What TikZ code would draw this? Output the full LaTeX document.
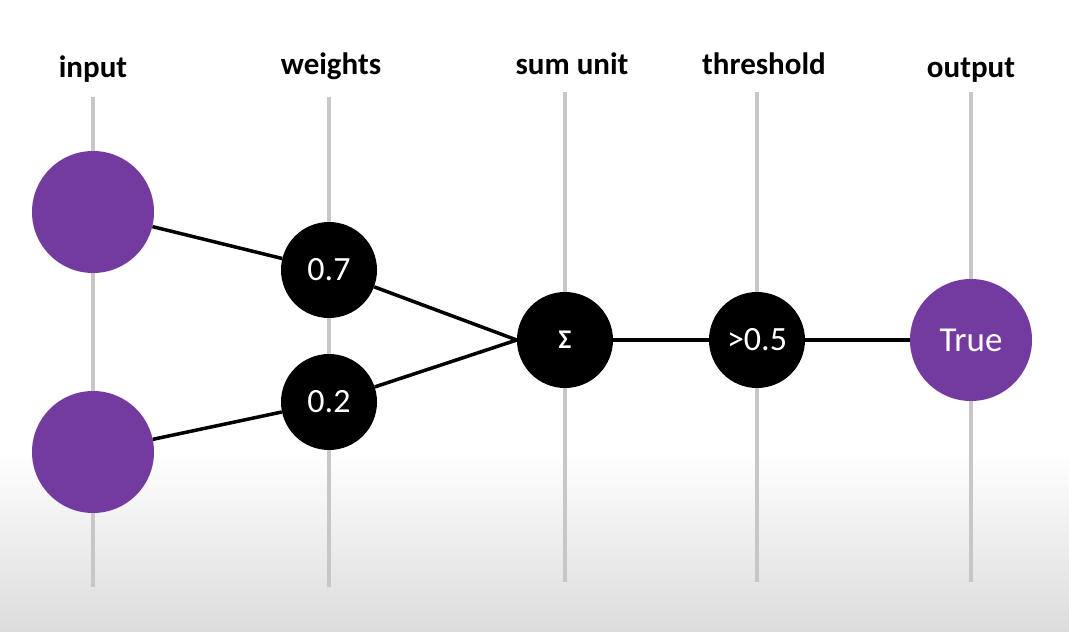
\documentclass[tikz,border=0pt]{standalone}
\usepackage{fontspec}
\setmainfont{Carlito}
\definecolor{nnpurple}{RGB}{115,58,160}
\definecolor{vline}{RGB}{200,198,200}
\definecolor{bgbot}{RGB}{220,220,220}
\begin{document}
\begin{tikzpicture}[x=1pt,y=-1pt,
  header/.style={font=\fontsize{31}{36}\selectfont\bfseries, anchor=base, inner sep=0pt},
  guide/.style={draw=vline, line width=4pt},
  bignode/.style={circle, fill=nnpurple, minimum size=122pt, inner sep=0pt, text=white, font=\fontsize{35}{40}\selectfont},
  smallnode/.style={circle, fill=black, minimum size=96pt, inner sep=0pt, text=white, font=\fontsize{34}{39}\selectfont},
  link/.style={draw=black, line width=3.5pt}]
\useasboundingbox (0,0) rectangle (1069,632);
\fill[white] (0,0) rectangle (1069,450);
\shade[top color=white, bottom color=bgbot] (0,450) rectangle (1069,632);
% headers
\node[header] (hin) at (93,77) {input};
\node[header] (hw) at (331,74) {weights};
\node[header] (hs) at (572,74) {sum unit};
\node[header] (ht) at (764,74) {threshold};
\node[header] (ho) at (971,77) {output};
% guide lines
\coordinate (g1a) at (93,97);  \coordinate (g1b) at (93,587);
\coordinate (g2a) at (329,97); \coordinate (g2b) at (329,587);
\coordinate (g3a) at (565,92); \coordinate (g3b) at (565,582);
\coordinate (g4a) at (757,92); \coordinate (g4b) at (757,582);
\coordinate (g5a) at (971,92); \coordinate (g5b) at (971,582);
\draw[guide] (g1a) -- (g1b);
\draw[guide] (g2a) -- (g2b);
\draw[guide] (g3a) -- (g3b);
\draw[guide] (g4a) -- (g4b);
\draw[guide] (g5a) -- (g5b);
% nodes
\node[bignode] (in1) at (93,212) {};
\node[bignode] (in2) at (93,452) {};
\node[smallnode] (w1) at (329,270) {0.7};
\node[smallnode] (w2) at (329,402) {0.2};
\node[smallnode, font=\fontsize{27}{32}\selectfont\bfseries] (sum) at (565,340) {Σ};
\node[smallnode] (thr) at (757,340) {>0.5};
\node[bignode] (out) at (971,340) {True};
% links
\draw[link] (in1) -- (w1);
\draw[link] (in2) -- (w2);
\draw[link] (w1) -- (sum.west);
\draw[link] (w2) -- (sum.west);
\draw[link] (sum) -- (thr);
\draw[link] (thr) -- (out);
\end{tikzpicture}
\end{document}
